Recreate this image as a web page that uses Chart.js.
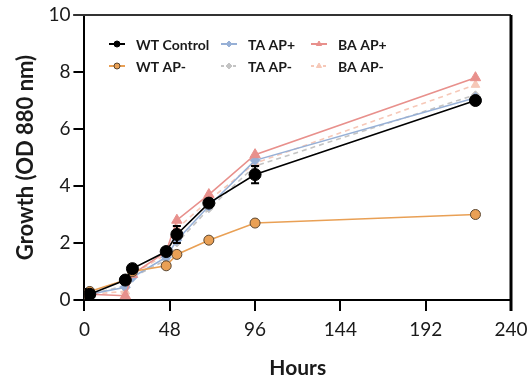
<!DOCTYPE html>
<html>
<head>
<meta charset="utf-8">
<script src="https://cdn.jsdelivr.net/npm/chart.js@4/dist/chart.umd.min.js"></script>
<style>
  html, body { margin: 0; padding: 0; background: #fff; }
  #wrap { width: 528px; height: 381px; }
</style>
</head>
<body>
<div id="wrap"><canvas id="growthChart" width="528" height="381"></canvas></div>
<script>
// ====== Data ======
const hours = [0, 3, 23, 27, 46, 52, 70, 96, 220];
const wtControl = [0.2, 0.2, 0.7, 1.1, 1.7, 2.3, 3.4, 4.4, 7.0];
const wtControlErr = [0, 0, 0.05, 0.1, 0.1, 0.3, 0.1, 0.3, 0.1];
const wtApMinus = [0.2, 0.3, 0.7, 1.0, 1.2, 1.6, 2.1, 2.7, 3.0];
const taApPlus = [0.2, 0.2, 0.45, 0.8, 1.5, 2.1, 3.3, 4.9, 7.1];
const taApMinus = [0.2, 0.2, 0.5, 0.8, 1.4, 2.0, 3.2, 4.7, 7.2];
const baApPlus = [0.2, 0.2, 0.15, 0.9, 1.7, 2.8, 3.7, 5.1, 7.8];
const baApMinus = [0.2, 0.2, 0.3, 0.9, 1.6, 2.5, 3.5, 4.8, 7.55];
const xTicks = [0, 48, 96, 144, 192, 240];
const yTicks = [0, 2, 4, 6, 8, 10];

const FONT = 'Lato, "Noto Sans", sans-serif';
const pts = (arr) => hours.map((h, i) => ({ x: h, y: arr[i] }));

// ====== Series styles ======
const series = [
  { label: 'WT Control', data: wtControl, color: '#000000', fill: '#000000', border: '#000000', style: 'circle', r: 6, dash: [], order: 0 },
  { label: 'WT AP-', data: wtApMinus, color: '#E9A055', fill: '#E9A055', border: '#5a4630', style: 'circle', r: 5, dash: [], order: 1 },
  { label: 'BA AP+', data: baApPlus, color: '#E8908C', fill: '#E8908C', border: '#E8908C', style: 'triangle', r: 6, dash: [], order: 2 },
  { label: 'TA AP+', data: taApPlus, color: '#97B0D6', fill: '#97B0D6', border: '#97B0D6', style: 'rectRot', r: 5, dash: [], order: 3 },
  { label: 'BA AP-', data: baApMinus, color: '#F6C8B8', fill: '#F6C8B8', border: '#F6C8B8', style: 'triangle', r: 5, dash: [5, 4], order: 4 },
  { label: 'TA AP-', data: taApMinus, color: '#C4C4C4', fill: '#C4C4C4', border: '#C4C4C4', style: 'rectRot', r: 4, dash: [5, 4], order: 5 }
];

// legend grid: columns x 2 rows
const legendLayout = [
  ['WT Control', 'TA AP+', 'BA AP+'],
  ['WT AP-', 'TA AP-', 'BA AP-']
];
const legendCols = [109, 221, 311];
const legendRows = [44, 66];

// ====== Plugins ======
const errorBars = {
  id: 'errorBars',
  afterDatasetsDraw(chart) {
    const { ctx, scales } = chart;
    ctx.save();
    ctx.strokeStyle = '#000';
    ctx.lineWidth = 2;
    hours.forEach((h, i) => {
      const e = wtControlErr[i];
      if (!e) return;
      const x = scales.x.getPixelForValue(h);
      const y1 = scales.y.getPixelForValue(wtControl[i] + e);
      const y2 = scales.y.getPixelForValue(wtControl[i] - e);
      ctx.beginPath();
      ctx.moveTo(x, y1); ctx.lineTo(x, y2);
      ctx.moveTo(x - 4, y1); ctx.lineTo(x + 4, y1);
      ctx.moveTo(x - 4, y2); ctx.lineTo(x + 4, y2);
      ctx.stroke();
    });
    ctx.restore();
  }
};

const frame = {
  id: 'frame',
  beforeDatasetsDraw(chart) {
    const { ctx, chartArea: a } = chart;
    ctx.save();
    ctx.strokeStyle = '#333';
    ctx.lineWidth = 2;
    ctx.beginPath();
    ctx.moveTo(a.left - 11, a.top);
    ctx.lineTo(a.right, a.top);
    ctx.stroke();
    ctx.strokeStyle = '#000';
    ctx.lineWidth = 3;
    ctx.beginPath();
    ctx.moveTo(a.right, a.top);
    ctx.lineTo(a.right, a.bottom + 11);
    ctx.stroke();
    ctx.restore();
  }
};

const gridLegend = {
  id: 'gridLegend',
  afterDraw(chart) {
    const { ctx } = chart;
    ctx.save();
    ctx.font = 'bold 14px ' + FONT;
    ctx.textBaseline = 'middle';
    legendLayout.forEach((row, r) => {
      row.forEach((name, c) => {
        const s = series.find(d => d.label === name);
        const x = legendCols[c], y = legendRows[r];
        ctx.strokeStyle = s.color;
        ctx.lineWidth = 2;
        ctx.setLineDash(s.dash.length ? [3, 3] : []);
        ctx.beginPath();
        ctx.moveTo(x, y); ctx.lineTo(x + 16, y);
        ctx.stroke();
        ctx.setLineDash([]);
        ctx.fillStyle = s.fill;
        ctx.strokeStyle = s.border;
        ctx.lineWidth = 1;
        Chart.helpers.drawPoint(ctx, { pointStyle: s.style, radius: 3, borderWidth: 1 }, x + 8, y);
        ctx.fillStyle = '#1a1a1a';
        ctx.fillText(name, x + 27, y + 1);
      });
    });
    ctx.restore();
  }
};

// ====== Chart ======
new Chart(document.getElementById('growthChart'), {
  type: 'line',
  data: {
    datasets: series.map(s => ({
      label: s.label,
      data: pts(s.data),
      borderColor: s.color,
      backgroundColor: s.fill,
      pointBorderColor: s.border,
      pointBackgroundColor: s.fill,
      pointStyle: s.style,
      pointRadius: s.r,
      pointBorderWidth: 1,
      borderWidth: 1.6,
      borderDash: s.dash,
      tension: 0,
      order: s.order
    }))
  },
  options: {
    responsive: false,
    animation: false,
    layout: { padding: { left: 13, right: 17, top: 15, bottom: 0 } },
    plugins: { legend: { display: false }, tooltip: { enabled: false } },
    scales: {
      x: {
        type: 'linear', min: 0, max: 240,
        afterBuildTicks: (ax) => { ax.ticks = xTicks.map(v => ({ value: v })); },
        afterFit: (ax) => { ax.paddingRight = 0; },
        grid: { drawOnChartArea: false, tickLength: 11, color: '#000', lineWidth: 2 },
        border: { color: '#000', width: 2 },
        ticks: { color: '#1a1a1a', font: { family: FONT, size: 19 }, padding: 7, maxRotation: 0 },
        title: { display: true, text: 'Hours', color: '#1a1a1a', font: { family: FONT, size: 21, weight: 'bold' }, padding: { top: 8, bottom: 0 } }
      },
      y: {
        min: 0, max: 10,
        afterBuildTicks: (ax) => { ax.ticks = yTicks.map(v => ({ value: v })); },
        grid: { drawOnChartArea: false, tickLength: 11, color: '#000', lineWidth: 2 },
        border: { color: '#000', width: 2 },
        ticks: { color: '#1a1a1a', font: { family: FONT, size: 19 }, padding: 3 },
        title: { display: true, text: 'Growth (OD 880 nm)', color: '#1a1a1a', font: { family: FONT, size: 22, weight: 'bold' }, padding: { top: 0, bottom: 6 } }
      }
    }
  },
  plugins: [frame, errorBars, gridLegend]
});
</script>
</body>
</html>
